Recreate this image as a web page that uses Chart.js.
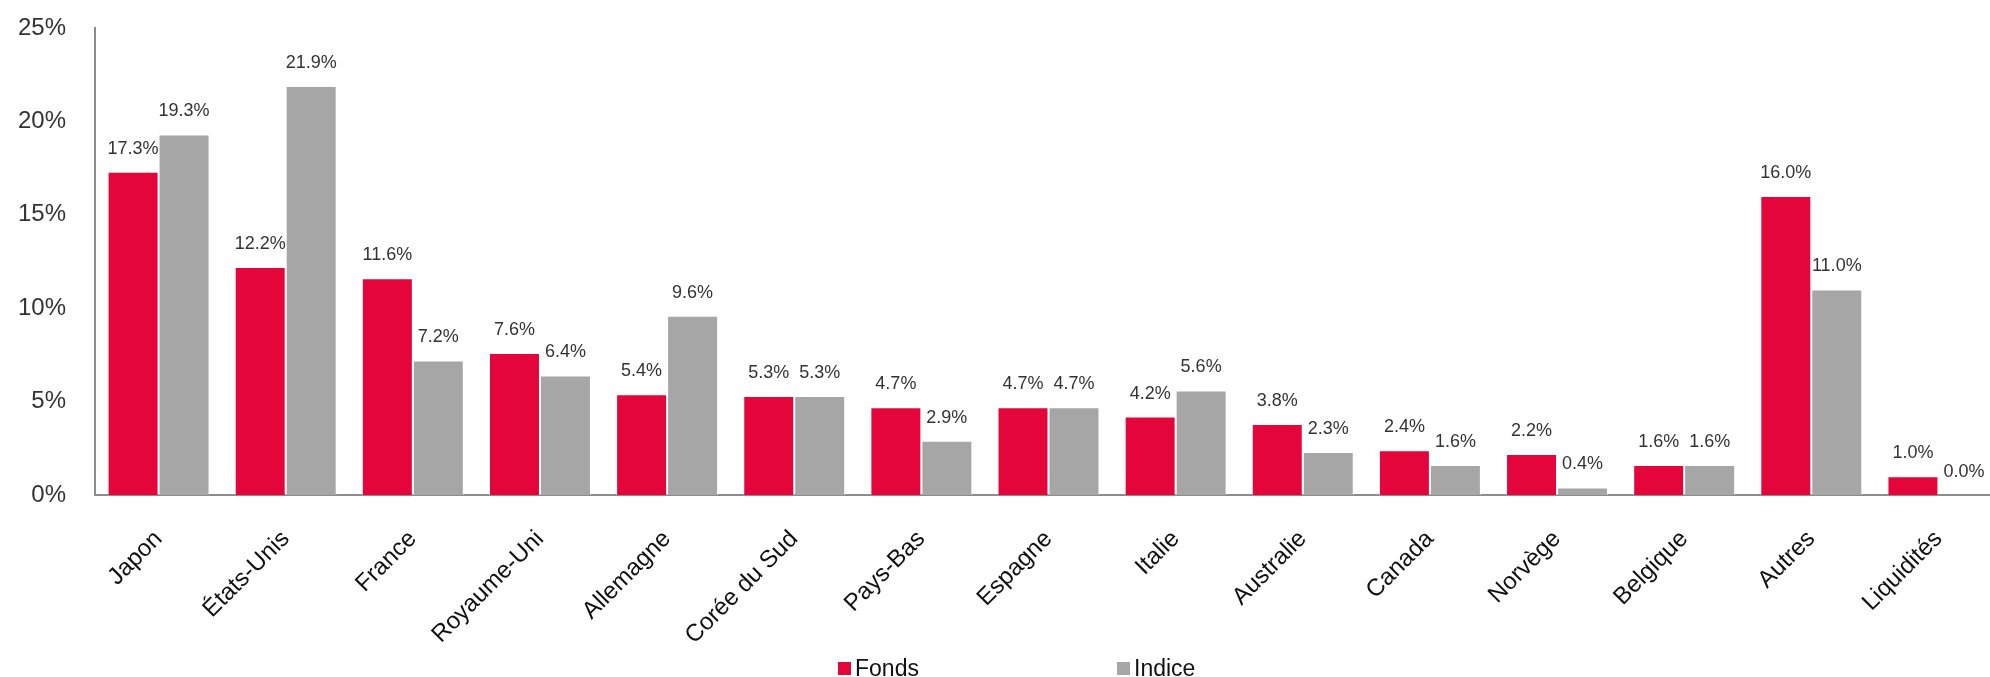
<!DOCTYPE html>
<html>
<head>
<meta charset="utf-8">
<script src="https://cdn.jsdelivr.net/npm/chart.js@4/dist/chart.umd.min.js"></script>
<style>
  html, body { margin: 0; padding: 0; background: #fff; overflow: hidden; }
  #wrap { position: relative; width: 2002px; height: 677px; }
  #legend { position: absolute; top: 655px; left: 0; width: 1990px; height: 26px;
            font-family: "Liberation Sans", Arial, sans-serif; font-size: 23px; color: #111; }
  .item { position: absolute; top: 0; display: flex; align-items: center; }
  .box { width: 13px; height: 13px; margin-right: 4px; }
</style>
</head>
<body>
<div id="wrap">
  <canvas id="chart-geo" width="2002" height="677"></canvas>
  <div id="legend"></div>
</div>
<script>
// allocation par pays - fonds vs indice (%)
const categories = ['Japon', 'États-Unis', 'France', 'Royaume-Uni', 'Allemagne', 'Corée du Sud', 'Pays-Bas',
  'Espagne', 'Italie', 'Australie', 'Canada', 'Norvège', 'Belgique', 'Autres', 'Liquidités'];
const fonds = [17.3, 12.2, 11.6, 7.6, 5.4, 5.3, 4.7, 4.7, 4.2, 3.8, 2.4, 2.2, 1.6, 16.0, 1.0];
const indice = [19.3, 21.9, 7.2, 6.4, 9.6, 5.3, 2.9, 4.7, 5.6, 2.3, 1.6, 0.4, 1.6, 11.0, 0.0];
const yTicks = [0, 5, 10, 15, 20, 25];

const FONT = '"Liberation Sans", Arial, sans-serif';

// value labels above each bar
const barLabels = {
  id: 'barLabels',
  afterDatasetsDraw(chart) {
    const ctx = chart.ctx;
    ctx.save();
    ctx.font = '18px ' + FONT;
    ctx.fillStyle = '#333';
    ctx.textAlign = 'center';
    ctx.textBaseline = 'middle';
    chart.data.datasets.forEach((ds, i) => {
      chart.getDatasetMeta(i).data.forEach((bar, j) => {
        ctx.fillText(ds.data[j].toFixed(1) + '%', bar.x, bar.y - 23);
      });
    });
    ctx.restore();
  }
};

const ctx = document.getElementById('chart-geo').getContext('2d');
const chart = new Chart(ctx, {
  type: 'bar',
  data: {
    labels: categories,
    datasets: [
      { label: 'Fonds', data: fonds, backgroundColor: '#e4063b', borderColor: 'rgba(255,255,255,0.5)', borderWidth: 1 },
      { label: 'Indice', data: indice, backgroundColor: '#a6a6a6', borderColor: 'rgba(255,255,255,0.5)', borderWidth: 1 }
    ]
  },
  options: {
    responsive: false,
    animation: false,
    layout: { padding: { top: 28, right: 0, bottom: 0, left: 0 } },
    categoryPercentage: 0.802,
    barPercentage: 1.0,
    plugins: { legend: { display: false }, tooltip: { enabled: false } },
    scales: {
      x: {
        grid: { display: false, drawTicks: false },
        border: { display: true, color: '#8c8c8c', width: 2 },
        ticks: { autoSkip: false, minRotation: 45, maxRotation: 45, padding: 30,
                 color: '#111', font: { family: FONT, size: 24 } },
        afterFit(scale) { scale.height = 182; }
      },
      y: {
        min: 0, max: 25,
        afterBuildTicks(scale) { scale.ticks = yTicks.map((v) => ({ value: v })); },
        grid: { display: false, drawTicks: false },
        border: { display: true, color: '#8c8c8c', width: 2 },
        ticks: { padding: 29, color: '#333', font: { family: FONT, size: 24 },
                 callback: (v) => v + '%' },
        afterFit(scale) {
          scale.width = 95;
          // tick padding would otherwise push the plot top down
          scale.paddingTop = 0;
          scale.paddingBottom = 0;
        }
      }
    }
  },
  plugins: [barLabels]
});

// html legend, spaced like the original
const legendPos = [838, 1117];
const legend = document.getElementById('legend');
chart.data.datasets.forEach((ds, i) => {
  const item = document.createElement('div');
  item.className = 'item';
  item.style.left = legendPos[i] + 'px';
  item.innerHTML = '<span class="box" style="background:' + ds.backgroundColor + '"></span><span>' + ds.label + '</span>';
  legend.appendChild(item);
});
</script>
</body>
</html>
